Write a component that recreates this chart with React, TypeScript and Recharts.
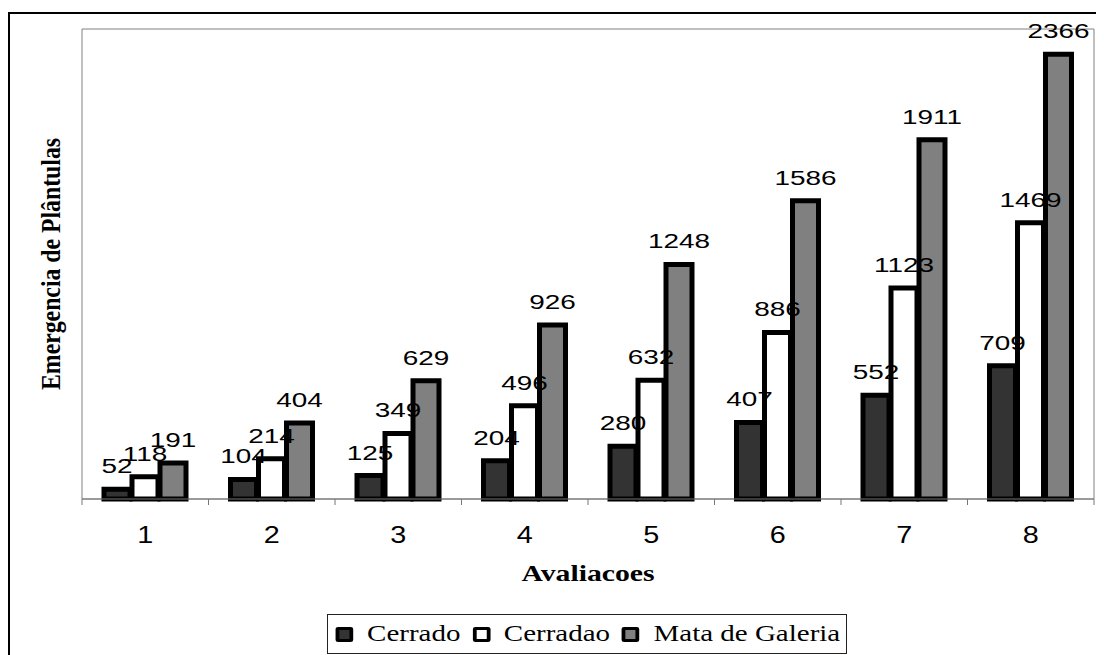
import React from "react";
import {
  BarChart,
  Bar,
  XAxis,
  YAxis,
  CartesianGrid,
  LabelList,
} from "recharts";

// avaliacoes (x categories)
const categories = ["1", "2", "3", "4", "5", "6", "7", "8"];

// emergencia de plantulas per area
const cerrado = [52, 104, 125, 204, 280, 407, 552, 709];
const cerradao = [118, 214, 349, 496, 632, 886, 1123, 1469];
const mataDeGaleria = [191, 404, 629, 926, 1248, 1586, 1911, 2366];

const seriesKeys = ["cerrado", "cerradao", "mata"];
const seriesNames = ["Cerrado", "Cerradao", "Mata de Galeria"];
const seriesColors = ["#333333", "#ffffff", "#808080"];

const yDomain = [0, 2500];

const data = categories.map((c, i) => ({
  cat: c,
  cerrado: cerrado[i],
  cerradao: cerradao[i],
  mata: mataDeGaleria[i],
}));

const CHART_W = 1090;
const CHART_H = 640;
const MARGIN = { top: 15, right: 6, left: 0, bottom: 55 };
const Y_W = 72;
const PLOT_W = CHART_W - MARGIN.left - MARGIN.right - Y_W;

const SANS = "'Liberation Sans', Arial, sans-serif";
const SERIF = "'Liberation Serif', 'Times New Roman', serif";

const BarValue = (p: any) => {
  const cx = Number(p.x) + Number(p.width) / 2;
  const by = Number(p.y) - 16;
  return (
    <text
      transform={`translate(${cx},${by}) scale(1.33,1)`}
      textAnchor="middle"
      fontFamily={SANS}
      fontSize={21}
      fill="#000"
    >
      {p.value}
    </text>
  );
};

const XTick = (p: any) => {
  const { x, y, payload } = p;
  const half = PLOT_W / categories.length / 2;
  const last = payload.value === categories[categories.length - 1];
  return (
    <g>
      <line x1={x - half} x2={x - half} y1={y} y2={y + 6} stroke="#777" />
      {last && <line x1={x + half} x2={x + half} y1={y} y2={y + 6} stroke="#777" />}
      <text
        transform={`translate(${x},${y + 44}) scale(1.2,1)`}
        textAnchor="middle"
        fontFamily={SANS}
        fontSize={24}
        fill="#000"
      >
        {payload.value}
      </text>
    </g>
  );
};

const XTitle = (p: any) => {
  const vb = p.viewBox || {};
  return (
    <text
      transform={`translate(${vb.x + vb.width / 2},${vb.y + 82}) scale(1.24,1)`}
      textAnchor="middle"
      fontFamily={SERIF}
      fontWeight="bold"
      fontSize={24}
      fill="#000"
    >
      Avaliacoes
    </text>
  );
};

const YTitle = (p: any) => {
  const vb = p.viewBox || {};
  return (
    <text
      transform={`translate(50,${vb.y + vb.height / 2}) rotate(-90) scale(1.08,1.27)`}
      textAnchor="middle"
      fontFamily={SERIF}
      fontWeight="bold"
      fontSize={22}
      fill="#000"
    >
      Emergencia de Plântulas
    </text>
  );
};

const Legendbox = () => (
  <div
    style={{
      position: "absolute",
      left: 317,
      top: 600,
      width: 520,
      height: 40,
      border: "1px solid #222",
      boxSizing: "border-box",
      background: "#fff",
      overflow: "hidden",
    }}
  >
    <div
      style={{
        display: "flex",
        alignItems: "center",
        height: "100%",
        paddingLeft: 6,
        transform: "scaleX(1.26)",
        transformOrigin: "left center",
        fontFamily: SERIF,
        fontSize: 23,
        whiteSpace: "nowrap",
      }}
    >
      {seriesNames.map((n, i) => (
        <React.Fragment key={n}>
          <span
            style={{
              display: "inline-block",
              width: 14,
              height: 15,
              boxSizing: "border-box",
              border: "3px solid #000",
              borderRadius: 2,
              background: seriesColors[i],
              marginRight: 11,
              marginLeft: i === 0 ? 0 : 9.5,
            }}
          />
          <span>{n}</span>
        </React.Fragment>
      ))}
    </div>
  </div>
);

export default function App() {
  return (
    <div style={{ position: "relative", width: 1096, height: 647, overflow: "hidden" }}>
      <style>{"body{overflow:hidden}"}</style>
      <div
        style={{
          position: "absolute",
          left: 0,
          top: 4,
          width: 1200,
          height: 700,
          border: "2px solid #000",
          background: "#fff",
        }}
      >
        <BarChart
          width={CHART_W}
          height={CHART_H}
          data={data}
          margin={MARGIN}
          barSize={26}
          barGap={2}
        >
          <CartesianGrid
            stroke="#808080"
            horizontalCoordinatesGenerator={({ offset }: any) => [offset.top, offset.top + offset.height]}
            verticalCoordinatesGenerator={({ offset }: any) => [offset.left, offset.left + offset.width]}
          />
          <XAxis
            dataKey="cat"
            height={100}
            tickSize={0}
            tickMargin={0}
            tickLine={false}
            axisLine={{ stroke: "#777" }}
            tick={<XTick />}
            label={<XTitle />}
            interval={0}
          />
          <YAxis
            width={Y_W}
            domain={yDomain}
            tick={false}
            tickLine={false}
            axisLine={false}
            label={<YTitle />}
          />
          {seriesKeys.map((k, i) => (
            <Bar
              key={k}
              dataKey={k}
              name={seriesNames[i]}
              fill={seriesColors[i]}
              stroke="#000"
              strokeWidth={5}
              isAnimationActive={false}
            >
              <LabelList dataKey={k} content={<BarValue />} />
            </Bar>
          ))}
        </BarChart>
        <Legendbox />
      </div>
    </div>
  );
}
